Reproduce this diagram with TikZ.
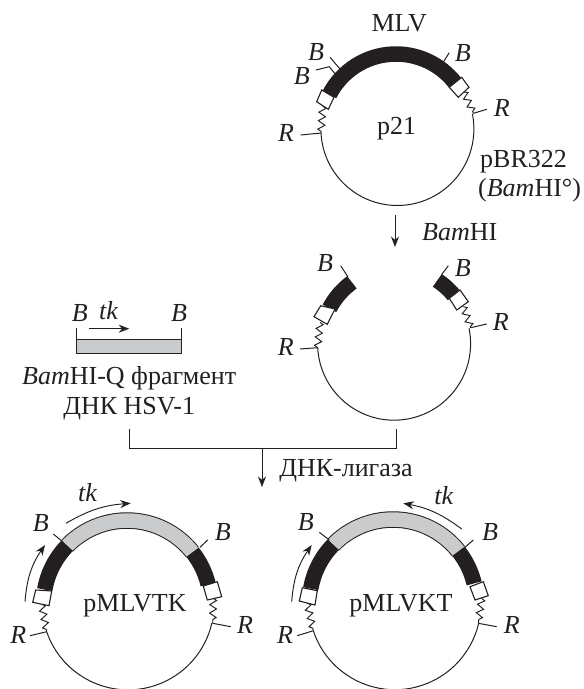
\documentclass[tikz,border=0pt]{standalone}
\usepackage{fontspec}
\setmainfont{Liberation Serif}
\usepackage{xcolor}
\usetikzlibrary{arrows.meta,decorations.pathmorphing}
\definecolor{ink1}{RGB}{35,31,32}
\definecolor{grayband}{RGB}{201,203,204}
\newcommand{\bandarc}[5]{\draw[#1] (#2) ++(#3:#5pt) arc[start angle=#3,end angle=#4,radius=#5pt];}

\begin{document}
\begin{tikzpicture}[
    x=1pt, y=-1pt,
    every node/.style={inner sep=0pt, text=ink1, font=\fontsize{26}{30}\selectfont, align=center},
    thin1/.style={draw=ink1, line width=1pt},
    blackband/.style={draw=ink1, line width=15.5pt},
    grayouter/.style={draw=ink1, line width=16.5pt},
    grayinner/.style={draw=grayband, line width=14.5pt},
    whitebox/.style={draw=ink1, fill=white, line width=1.1pt},
    zig/.style={draw=ink1, line width=0.95pt, decorate, decoration={zigzag, amplitude=3.4pt, segment length=8.5pt}},
    arr/.style={draw=ink1, line width=0.95pt, -{Stealth[length=10.5pt, width=8pt]}}
]
    \useasboundingbox (0,0) rectangle (584,689);

    % p21
    \coordinate (c1) at (396,129);
    \draw[thin1] (321,133) arc[start angle=183,end angle=371.6,radius=76.5pt];
    \bandarc{blackband}{c1}{152.5}{38}{75}
    \draw[whitebox] (321.7,90) -- (334,97.3) -- (328.3,109.3) -- (316.7,101.7) -- cycle;
    \draw[whitebox] (461.7,77.3) -- (449.3,87.3) -- (458.3,97.3) -- (469,87.3) -- cycle;
    \draw[zig] (322.7,106) -- (321,133);
    \draw[zig] (464,92) -- (473.5,113.3);
    \draw[thin1] (300.7,135) -- (321,133);
    \draw[thin1] (473.5,113.3) -- (486.7,109.3);
    \draw[thin1] (330,57.3) -- (340,69);
    \draw[thin1] (316,70) -- (329.3,66.7) -- (336,75);
    \draw[thin1] (449.3,52.7) -- (443.3,62);
    \node (mlv) at (399.3,22.7) {MLV};
    \node (bl1) at (316,52) {\textit{B}};
    \node (bl2) at (301.7,76) {\textit{B}};
    \node (br1) at (462.7,53.3) {\textit{B}};
    \node (rl1) at (286,133) {\textit{R}};
    \node (rr1) at (501.7,108) {\textit{R}};
    \node (p21) at (396.7,129) {p21};
    \node[anchor=base west] (pbr) at (480,167) {pBR322};
    \node[anchor=base west] (bamo) at (478,196) {(\textit{Bam}HI°)};

    % BamHI
    \coordinate (bam1) at (395,215);
    \coordinate (bam2) at (395,247);
    \draw[arr] (bam1) -- (bam2);
    \node[anchor=base west] (bamhi) at (422,240) {\textit{Bam}HI};

    % opened plasmid
    \coordinate (c2) at (396,343);
    \draw[thin1] (317.7,347.7) arc[start angle=183,end angle=371.6,radius=76.5pt];
    \bandarc{blackband}{c2}{152.5}{126}{75}
    \bandarc{blackband}{c2}{56.6}{39.8}{75}
    \draw[whitebox] (320.7,305.7) -- (335,309) -- (327.3,324.3) -- (314,316.7) -- cycle;
    \draw[whitebox] (460,290) -- (449.3,298.3) -- (456.7,310) -- (468.3,301.7) -- cycle;
    \draw[zig] (320,322.3) -- (317.7,347.7);
    \draw[zig] (463.3,306.7) -- (470.7,327.7);
    \draw[thin1] (300,349) -- (317.7,347.7);
    \draw[thin1] (470.7,327.7) -- (486.7,324);
    \draw[thin1] (340.7,265.7) -- (348,277);
    \draw[thin1] (448.3,265.7) -- (441.7,274.5);
    \node (bl3) at (325,263.3) {\textit{B}};
    \node (br3) at (462.7,267.7) {\textit{B}};
    \node (rl3) at (285.7,346.7) {\textit{R}};
    \node (rr3) at (500.7,322.3) {\textit{R}};

    % fragment
    \draw[thin1, fill=grayband] (76.8,339) rectangle (181.6,353.7);
    \draw[thin1] (76.8,328) -- (76.8,339);
    \draw[thin1] (181.6,328) -- (181.6,339);
    \draw[arr] (88.8,328.7) -- (129.2,328.7);
    \node (bf1) at (79.8,313) {\textit{B}};
    \node (bf2) at (179,313) {\textit{B}};
    \node (tkf) at (108.6,311) {\textit{tk}};
    \node (frag) at (129.2,393) {\textit{Bam}HI-Q фрагмент\\ДНК HSV-1};

    % ligation
    \coordinate (fragb) at (129.2,429);
    \coordinate (plasb) at (396.5,429);
    \coordinate (joinl) at (129.2,448);
    \coordinate (joinr) at (396.5,448);
    \coordinate (joinm) at (262,448);
    \coordinate (tipm) at (262,487);
    \draw[thin1] (fragb) -- (joinl) -- (joinr) -- (plasb);
    \draw[arr] (joinm) -- (tipm);
    \node (lig) at (346,470.5) {ДНК-лигаза};

    % pMLVTK
    \coordinate (c3) at (127,604);
    \draw[thin1] (46.7,631.7) arc[start angle=198.9,end angle=347,radius=86pt];
    \bandarc{grayouter}{c3}{135.7}{38.3}{83.5}
    \bandarc{grayinner}{c3}{136.7}{37.3}{83.5}
    \bandarc{blackband}{c3}{170.1}{135.7}{83.5}
    \bandarc{blackband}{c3}{38.3}{13.6}{83.5}
    \draw[whitebox] (35.7,590) -- (51.7,591) -- (49,605.7) -- (32.7,602.3) -- cycle;
    \draw[whitebox] (203.3,586) -- (217.3,581.7) -- (221.7,596.7) -- (207.3,600) -- cycle;
    \draw[zig] (41.7,604.3) -- (46.7,631.7);
    \draw[zig] (213.3,598.3) -- (212.7,623.3);
    \draw[thin1] (30,635.7) -- (46.7,631.7);
    \draw[thin1] (212.7,623.3) -- (230.7,626.7);
    \draw[thin1] (53.3,534) -- (62.7,541.7);
    \draw[thin1] (200,547.3) -- (207.7,540);
    \draw[arr] (25,601.7) to[bend left=15] (45,545);
    \draw[arr] (66,523.3) to[bend left=13] (130.7,503.3);
    \node (bl4) at (40.7,522.7) {\textit{B}};
    \node (br4) at (222.7,531.7) {\textit{B}};
    \node (rl4) at (18.3,635) {\textit{R}};
    \node (rr4) at (245,625) {\textit{R}};
    \node (tk4) at (87.7,492.3) {\textit{tk}};
    \node (ptk) at (135,606) {pMLVTK};

    % pMLVKT
    \coordinate (c4) at (393,603);
    \draw[thin1] (313.3,630.7) arc[start angle=198.3,end angle=346.8,radius=86pt];
    \bandarc{grayouter}{c4}{135.7}{38.3}{83.5}
    \bandarc{grayinner}{c4}{136.7}{37.3}{83.5}
    \bandarc{blackband}{c4}{170.1}{135.7}{83.5}
    \bandarc{blackband}{c4}{38.3}{13.6}{83.5}
    \draw[whitebox] (302.3,587.7) -- (317.3,590.7) -- (315,605) -- (299.3,601) -- cycle;
    \draw[whitebox] (470,586.7) -- (483.3,581.7) -- (488.3,595.7) -- (475,600) -- cycle;
    \draw[zig] (307.3,603.3) -- (313.3,630.7);
    \draw[zig] (481.7,598.3) -- (478.3,623.3);
    \draw[thin1] (297.3,635.7) -- (313.3,630.7);
    \draw[thin1] (478.3,623.3) -- (496.7,626.7);
    \draw[thin1] (319.3,532.3) -- (329.3,540);
    \draw[thin1] (465,547.3) -- (473.3,540);
    \draw[arr] (291.7,601.7) to[bend left=15] (311.7,545);
    \draw[arr] (461.7,529) to[bend right=13] (403.3,503.3);
    \node (bl5) at (305.7,521.7) {\textit{B}};
    \node (br5) at (490,531.7) {\textit{B}};
    \node (rl5) at (285,635) {\textit{R}};
    \node (rr5) at (511.7,625) {\textit{R}};
    \node (tk5) at (444,496) {\textit{tk}};
    \node (pkt) at (401,606) {pMLVKT};
\end{tikzpicture}
\end{document}
